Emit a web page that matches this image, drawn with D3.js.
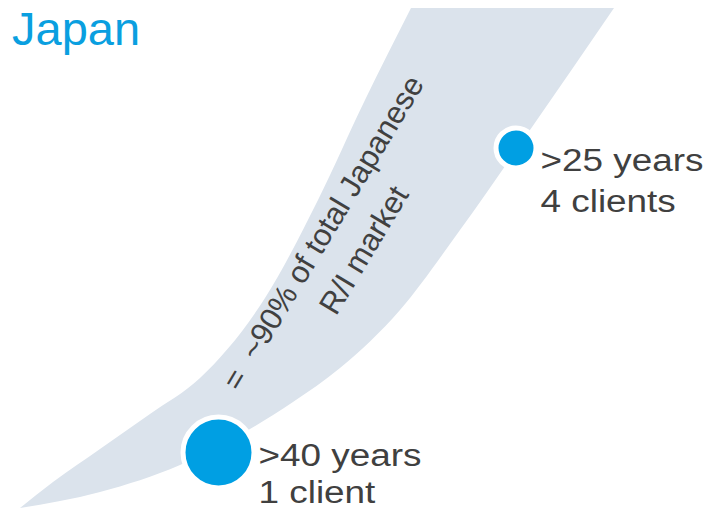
<!DOCTYPE html>
<html>
<head>
<meta charset="utf-8">
<script src="https://cdn.jsdelivr.net/npm/d3@7"></script>
<style>
  body { margin: 0; background: #fff; }
  svg { display: block; font-family: "Liberation Sans", Arial, sans-serif; }
</style>
</head>
<body>
<svg width="725" height="509"></svg>
<script>
// Band edges (diagram units), bottom tip to top
const bandLeft = [[20, 508], [53, 482], [100, 449], [150, 414], [200, 378], [265, 298], [318, 200], [365, 100], [411, 8]];
const bandRight = [[20, 508], [100, 492], [180, 465], [250, 429], [293, 402], [340, 368], [400, 310], [460, 230], [530, 130], [614, 8]];

// Milestones on the band
const milestones = [
  { years: ">40 years", clients: "1 client", x: 218.5, y: 452.5, size: 33 },
  { years: ">25 years", clients: "4 clients", x: 516, y: 148, size: 17.5 }
];

const title = "Japan";
const bandText = ["=  ~90% of total Japanese", "R/I market"];

const width = 725, height = 509;
const svg = d3.select("svg");

const x = d3.scaleLinear().domain([0, 725]).range([0, width]);
const y = d3.scaleLinear().domain([0, 509]).range([0, height]);

// Band: left edge up, across the top, right edge back down
const edge = d3.line()
  .x(d => x(d[0]))
  .y(d => y(d[1]))
  .curve(d3.curveMonotoneX);

const leftPath = edge(bandLeft);
const rightPath = edge(bandRight.slice().reverse());
svg.append("path")
  .attr("d", leftPath + "L" + rightPath.slice(1) + "Z")
  .attr("fill", "#dbe3ec");

// Title
svg.append("text")
  .attr("x", 12)
  .attr("y", 45)
  .style("font-size", "47px")
  .attr("fill", "#0a9fe0")
  .text(title);

// Rotated band text
const bt = svg.append("text")
  .attr("transform", `translate(${x(332)},${y(238)}) rotate(-59)`)
  .attr("text-anchor", "middle")
  .attr("fill", "#404040")
  .style("font-size", "31px");

bt.selectAll("tspan")
  .data(bandText)
  .join("tspan")
  .attr("x", (d, i) => i * 6)
  .attr("y", (d, i) => i * 44)
  .attr("xml:space", "preserve")
  .text(d => d);

// Circles
svg.selectAll("circle.ms")
  .data(milestones)
  .join("circle")
  .attr("class", "ms")
  .attr("cx", d => x(d.x))
  .attr("cy", d => y(d.y))
  .attr("r", d => d.size + 2.5)
  .attr("fill", "#009fe3")
  .attr("stroke", "#fff")
  .attr("stroke-width", 5);

// Labels
const labels = svg.selectAll("g.lbl")
  .data(milestones)
  .join("g")
  .attr("class", "lbl")
  .attr("transform", d => `translate(${x(d.x) + d.size + 7},${y(d.y) + (d.size > 20 ? 13 : 23)}) scale(1.19,1)`);

labels.append("text")
  .attr("fill", "#404040")
  .style("font-size", "31px")
  .text(d => d.years);

labels.append("text")
  .attr("y", d => d.size > 20 ? 38 : 41)
  .attr("fill", "#404040")
  .style("font-size", "31px")
  .text(d => d.clients);
</script>
</body>
</html>
